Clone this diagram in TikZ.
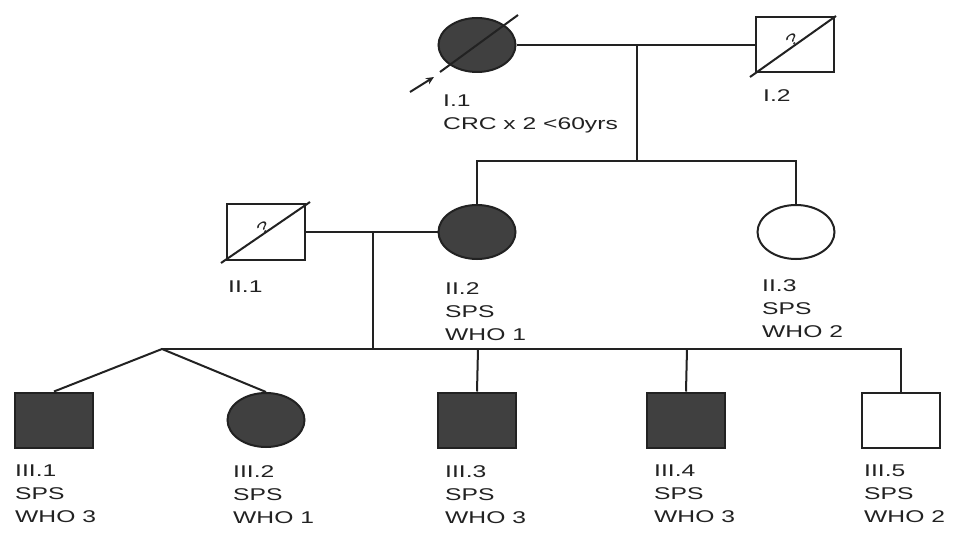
\documentclass[tikz,border=0pt]{standalone}
\usepackage{fontspec}
\usetikzlibrary{shapes.geometric,arrows.meta}
\newfontfamily\lblfont[FakeStretch=1.45]{Liberation Sans}
\definecolor{affect}{HTML}{404040}
\definecolor{ink}{HTML}{222222}
\tikzset{
  pline/.style={draw=ink,line width=2pt},
  fem/.style={ellipse,draw=ink,line width=2pt,minimum width=77pt,minimum height=54pt,inner sep=0pt},
  mal/.style={rectangle,draw=ink,line width=2pt,minimum width=78pt,minimum height=55pt,inner sep=0pt},
  aff/.style={fill=affect},
  lbl/.style={anchor=north west,inner sep=0pt,align=left,text=ink,font=\lblfont\fontsize{17}{23}\selectfont},
  qm/.style={inner sep=0pt,text=ink,font=\lblfont\fontsize{15}{15}\selectfont}
}
\begin{document}
\begin{tikzpicture}[x=1pt,y=-1pt]
\useasboundingbox[fill=white] (0,0) rectangle (953,540);
% generation I
\node[fem,aff] (I1) at (477,45) {};
\node[mal] (I2) at (795,45) {};
\coordinate (I1a) at (440,72);
\coordinate (I1b) at (518,15);
\draw[pline] (I1a) -- (I1b);
\coordinate (ar0) at (410,92);
\coordinate (ar1) at (434,77);
\draw[pline,-{Stealth[length=8pt,width=7pt]}] (ar0) -- (ar1);
\coordinate (I2a) at (750,77);
\coordinate (I2b) at (836,16);
\draw[pline] (I2a) -- (I2b);
\node[qm,rotate=35] (I2q) at (792,40) {?};
\node[lbl] (I1l) at (443,95) {I.1\\CRC x 2 <60yrs};
\node[lbl] (I2l) at (763,89) {I.2};
% marriage I and sibship II
\draw[pline] (I1.east) -- (I2.west);
\coordinate (d1) at (637,45);
\coordinate (s1) at (637,161);
\draw[pline] (d1) -- (s1);
% generation II
\node[mal] (II1) at (266,232) {};
\node[fem,aff] (II2) at (477,232) {};
\node[fem] (II3) at (796,232) {};
\draw[pline] (II2.north) |- (s1) -| (II3.north);
\coordinate (II1a) at (221,263);
\coordinate (II1b) at (310,202);
\draw[pline] (II1a) -- (II1b);
\node[qm,rotate=35] (II1q) at (263,228) {?};
\node[lbl] (II1l) at (228,281) {II.1};
\node[lbl] (II2l) at (445,282) {II.2\\SPS\\WHO 1};
\node[lbl] (II3l) at (762,279) {II.3\\SPS\\WHO 2};
% marriage II
\draw[pline] (II1.east) -- (II2.west);
\coordinate (d2) at (373,232);
\coordinate (s2) at (373,349);
\draw[pline] (d2) -- (s2);
% generation III
\node[mal,aff] (III1) at (54,420) {};
\node[fem,aff] (III2) at (266,420) {};
\node[mal,aff] (III3) at (477,420) {};
\node[mal,aff] (III4) at (686,420) {};
\node[mal] (III5) at (901,420) {};
\coordinate (tw) at (162,349);
\coordinate (s3) at (478,349);
\coordinate (s4) at (687,349);
\draw[pline] (III1.north) -- (tw) -- (III2.north);
\draw[pline] (tw) -- (s2) -- (s3) -- (s4) -| (III5.north);
\draw[pline] (s3) -- (III3.north);
\draw[pline] (s4) -- (III4.north);
\node[lbl] (III1l) at (15,465) {III.1\\SPS\\WHO 3};
\node[lbl] (III2l) at (233,465) {III.2\\SPS\\WHO 1};
\node[lbl] (III3l) at (445,465) {III.3\\SPS\\WHO 3};
\node[lbl] (III4l) at (654,465) {III.4\\SPS\\WHO 3};
\node[lbl] (III5l) at (864,465) {III.5\\SPS\\WHO 2};
\end{tikzpicture}
\end{document}
